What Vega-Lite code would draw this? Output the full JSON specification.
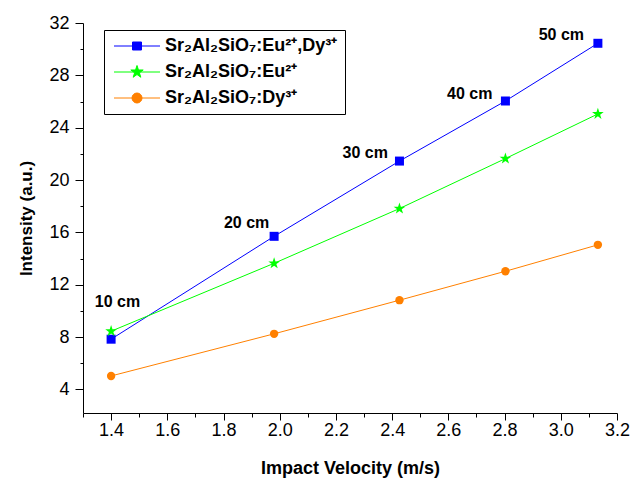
{
  "$schema": "https://vega.github.io/schema/vega-lite/v6.json",
  "width": 534,
  "height": 390,
  "autosize": {"type": "none"},
  "padding": {"left": 83, "top": 23, "right": 16, "bottom": 65},
  "background": "white",
  "config": {
    "font": "Liberation Sans",
    "view": {"stroke": null},
    "axis": {
      "domainColor": "black", "tickColor": "black", "labelColor": "black", "titleColor": "black",
      "labelFont": "Liberation Sans", "labelFontSize": 18, "titleFont": "Liberation Sans",
      "titleFontSize": 17, "titleFontWeight": "bold", "grid": false,
      "domainWidth": 1, "tickWidth": 1, "labelOverlap": false, "labelFlush": false
    },
    "legend": {"labelFont": "Liberation Sans"}
  },
  "datasets": {
    "series": [
      {"v": 1.4, "I": 7.84, "s": "Sr₂Al₂SiO₇:Eu²⁺,Dy³⁺"},
      {"v": 1.98, "I": 15.7, "s": "Sr₂Al₂SiO₇:Eu²⁺,Dy³⁺"},
      {"v": 2.426, "I": 21.45, "s": "Sr₂Al₂SiO₇:Eu²⁺,Dy³⁺"},
      {"v": 2.803, "I": 26.04, "s": "Sr₂Al₂SiO₇:Eu²⁺,Dy³⁺"},
      {"v": 3.132, "I": 30.45, "s": "Sr₂Al₂SiO₇:Eu²⁺,Dy³⁺"},
      {"v": 1.4, "I": 8.45, "s": "Sr₂Al₂SiO₇:Eu²⁺"},
      {"v": 1.98, "I": 13.64, "s": "Sr₂Al₂SiO₇:Eu²⁺"},
      {"v": 2.426, "I": 17.82, "s": "Sr₂Al₂SiO₇:Eu²⁺"},
      {"v": 2.803, "I": 21.64, "s": "Sr₂Al₂SiO₇:Eu²⁺"},
      {"v": 3.132, "I": 25.05, "s": "Sr₂Al₂SiO₇:Eu²⁺"},
      {"v": 1.4, "I": 5.03, "s": "Sr₂Al₂SiO₇:Dy³⁺"},
      {"v": 1.98, "I": 8.25, "s": "Sr₂Al₂SiO₇:Dy³⁺"},
      {"v": 2.426, "I": 10.82, "s": "Sr₂Al₂SiO₇:Dy³⁺"},
      {"v": 2.803, "I": 13.03, "s": "Sr₂Al₂SiO₇:Dy³⁺"},
      {"v": 3.132, "I": 15.05, "s": "Sr₂Al₂SiO₇:Dy³⁺"}
    ],
    "labels": [
      {"v": 1.4226, "I": 10.69, "t": "10 cm"},
      {"v": 1.882, "I": 16.68, "t": "20 cm"},
      {"v": 2.304, "I": 22.07, "t": "30 cm"},
      {"v": 2.676, "I": 26.55, "t": "40 cm"},
      {"v": 3.002, "I": 31.06, "t": "50 cm"}
    ]
  },
  "layer": [
    {
      "data": {"name": "series"},
      "mark": {"type": "point", "opacity": 0, "filled": false},
      "encoding": {
        "x": {"field": "v", "type": "quantitative"},
        "y": {"field": "I", "type": "quantitative"},
        "color": {"field": "s", "type": "nominal",
          "legend": {"title": null, "orient": "none", "legendX": 21, "legendY": 7, "padding": 7, "strokeColor": "black", "fillColor": "white", "symbolSize": 100, "symbolStrokeWidth": 1, "symbolOpacity": 1, "labelFontSize": 18, "labelFontWeight": "bold", "labelColor": "black", "labelLimit": 400, "labelOffset": 36, "rowPadding": 8}},
        "fill": {"field": "s", "type": "nominal",
          "scale": {"domain": ["Sr₂Al₂SiO₇:Eu²⁺,Dy³⁺", "Sr₂Al₂SiO₇:Eu²⁺", "Sr₂Al₂SiO₇:Dy³⁺"], "range": ["#0000FF", "#00FF00", "#FF8000"]},
          "legend": {"title": null, "orient": "none", "legendX": 21, "legendY": 7, "padding": 7, "strokeColor": "black", "fillColor": "white", "symbolSize": 100, "symbolStrokeWidth": 1, "symbolOpacity": 1, "labelFontSize": 18, "labelFontWeight": "bold", "labelColor": "black", "labelLimit": 400, "labelOffset": 36, "rowPadding": 8}},
        "shape": {"field": "s", "type": "nominal",
          "scale": {"domain": ["Sr₂Al₂SiO₇:Eu²⁺,Dy³⁺", "Sr₂Al₂SiO₇:Eu²⁺", "Sr₂Al₂SiO₇:Dy³⁺"],
            "range": ["M-1.2,0H8.0M2.5,-0.8H4.3V0.8H2.5Z", "M-1.2,0H8.0M3.4,-1.3L3.694,-0.405L4.636,-0.402L3.876,0.155L4.164,1.052L3.4,0.5L2.636,1.052L2.924,0.155L2.164,-0.402L3.106,-0.405Z", "M-1.2,0H8.0M2.4,0A1,1 0 1,0 4.4,0A1,1 0 1,0 2.4,0Z"]},
          "legend": {"title": null, "orient": "none", "legendX": 21, "legendY": 7, "padding": 7, "strokeColor": "black", "fillColor": "white", "symbolSize": 100, "symbolStrokeWidth": 1, "symbolOpacity": 1, "labelFontSize": 18, "labelFontWeight": "bold", "labelColor": "black", "labelLimit": 400, "labelOffset": 36, "rowPadding": 8}}
      }
    },
    {
      "data": {"name": "series"},
      "mark": {"type": "line", "strokeWidth": 1},
      "encoding": {
        "x": {"field": "v", "type": "quantitative", "scale": {"domain": [1.3, 3.2], "nice": false, "zero": false},
          "axis": {
            "title": "Impact Velocity (m/s)",
            "titleFontSize": 18,
            "values": [1.3, 1.4, 1.5, 1.6, 1.7, 1.8, 1.9, 2.0, 2.1, 2.2, 2.3, 2.4, 2.5, 2.6, 2.7, 2.8, 2.9, 3.0, 3.1, 3.2],
            "tickCount": 100,
            "labelExpr": "abs(round(datum.value*10)%2)==0 ? format(datum.value, '.1f') : ''",
            "tickSize": {"condition": {"test": "abs(round(datum.value*10)%2)==0", "value": 7}, "value": 4},
            "labelPadding": 1,
            "titlePadding": 20
          }},
        "y": {"field": "I", "type": "quantitative", "scale": {"domain": [2.2, 32], "nice": false, "zero": false},
          "axis": {
            "title": "Intensity (a.u.)",
            "values": [4, 6, 8, 10, 12, 14, 16, 18, 20, 22, 24, 26, 28, 30, 32],
            "tickCount": 100,
            "labelExpr": "datum.value % 4 == 0 ? format(datum.value, 'd') : ''",
            "tickSize": {"condition": {"test": "datum.value % 4 == 0", "value": 8}, "value": 3},
            "labelPadding": 6,
            "titlePadding": 13
          }},
        "color": {"field": "s", "type": "nominal", "legend": null,
          "scale": {"domain": ["Sr₂Al₂SiO₇:Eu²⁺,Dy³⁺", "Sr₂Al₂SiO₇:Eu²⁺", "Sr₂Al₂SiO₇:Dy³⁺"], "range": ["#0000FF", "#00FF00", "#FF8000"]}}
      }
    },
    {
      "data": {"name": "series"},
      "transform": [{"filter": "datum.s == 'Sr₂Al₂SiO₇:Eu²⁺,Dy³⁺'"}],
      "mark": {"type": "point", "filled": true, "opacity": 1, "shape": "square", "size": 81},
      "encoding": {
        "x": {"field": "v", "type": "quantitative"},
        "y": {"field": "I", "type": "quantitative"},
        "color": {"field": "s", "type": "nominal", "legend": null}
      }
    },
    {
      "data": {"name": "series"},
      "transform": [{"filter": "datum.s == 'Sr₂Al₂SiO₇:Eu²⁺'"}],
      "mark": {"type": "point", "filled": true, "opacity": 1, "size": 150,
        "shape": "M0,-1L0.226,-0.311L0.951,-0.309L0.366,0.119L0.588,0.809L0,0.385L-0.588,0.809L-0.366,0.119L-0.951,-0.309L-0.226,-0.311Z"},
      "encoding": {
        "x": {"field": "v", "type": "quantitative"},
        "y": {"field": "I", "type": "quantitative"},
        "color": {"field": "s", "type": "nominal", "legend": null}
      }
    },
    {
      "data": {"name": "series"},
      "transform": [{"filter": "datum.s == 'Sr₂Al₂SiO₇:Dy³⁺'"}],
      "mark": {"type": "point", "filled": true, "opacity": 1, "shape": "circle", "size": 70},
      "encoding": {
        "x": {"field": "v", "type": "quantitative"},
        "y": {"field": "I", "type": "quantitative"},
        "color": {"field": "s", "type": "nominal", "legend": null}
      }
    },
    {
      "data": {"name": "labels"},
      "mark": {"type": "text", "fontWeight": "bold", "fontSize": 16, "align": "center", "baseline": "middle", "color": "black", "font": "Liberation Sans"},
      "encoding": {
        "x": {"field": "v", "type": "quantitative"},
        "y": {"field": "I", "type": "quantitative"},
        "text": {"field": "t"}
      }
    }
  ]
}
